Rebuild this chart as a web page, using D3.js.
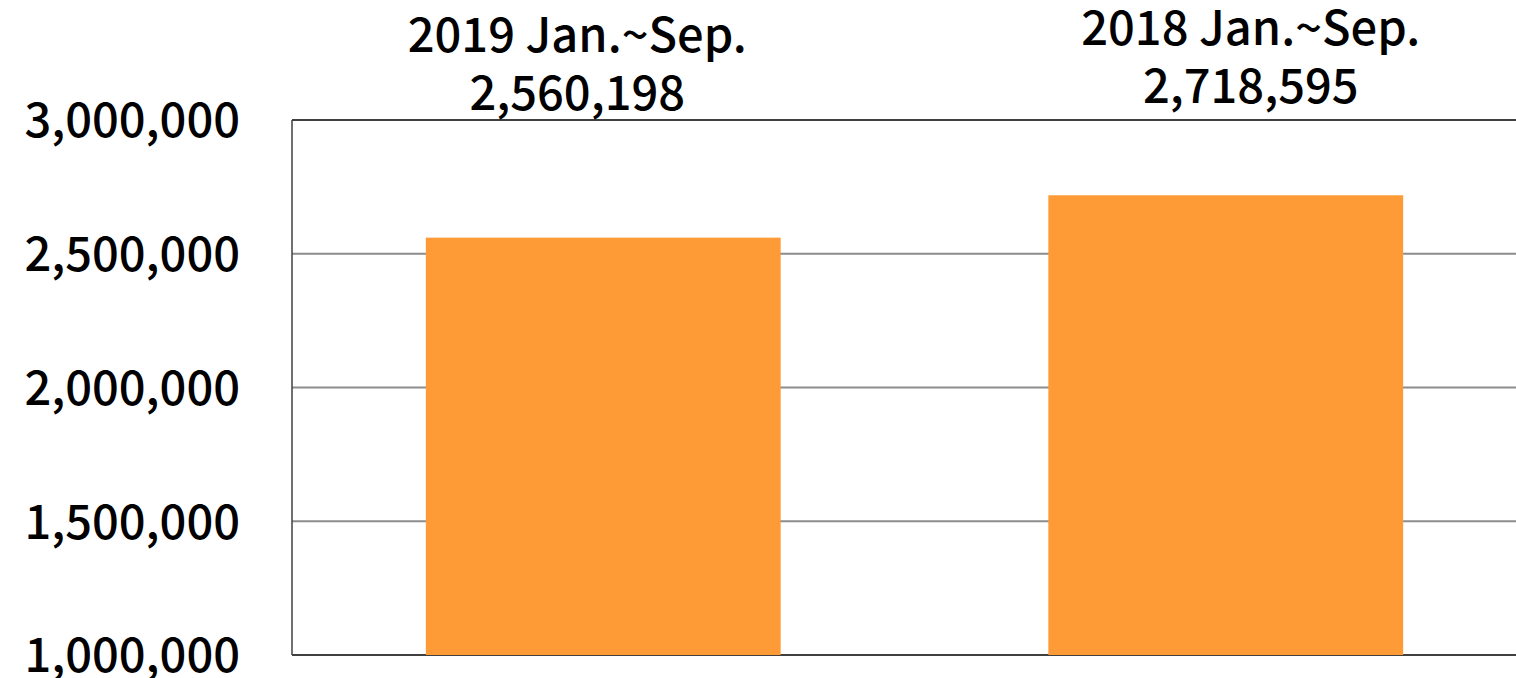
<!DOCTYPE html>
<html>
<head>
<meta charset="utf-8">
<script src="https://cdn.jsdelivr.net/npm/d3@7"></script>
<style>
  body { margin: 0; background: #fff; }
  svg text { font-family: "Noto Sans CJK TC", "Noto Sans", sans-serif; fill: #000; }
</style>
</head>
<body>
<div id="chart"></div>
<script>
// values
const periods = ['2019 Jan.~Sep.', '2018 Jan.~Sep.'];
const totals = [2560198, 2718595];
const yTicks = [1000000, 1500000, 2000000, 2500000, 3000000];

const W = 1516, H = 678;
const margin = { top: 120, right: -21, bottom: 23, left: 292 };
const width = W - margin.left - margin.right;
const height = H - margin.top - margin.bottom;
const fmt = d3.format(',');
const fontSize = '47px';
const fontWeight = 500;

const svg = d3.select('#chart')
  .append('svg')
  .attr('width', W)
  .attr('height', H);

const g = svg.append('g')
  .attr('transform', `translate(${margin.left}, ${margin.top})`);

const x = d3.scaleBand()
  .domain(periods)
  .range([0, width])
  .paddingInner(0.43)
  .paddingOuter(0.215);

const y = d3.scaleLinear()
  .domain([1000000, 3000000])
  .range([height, 0]);

// grid
g.selectAll('.grid')
  .data(yTicks)
  .enter()
  .append('line')
  .attr('x1', 0)
  .attr('x2', width)
  .attr('y1', d => y(d))
  .attr('y2', d => y(d))
  .attr('stroke', (d, i) => (i === 0 || i === yTicks.length - 1 ? '#404040' : '#8c8c8c'))
  .attr('stroke-width', 2);

g.selectAll('.bar')
  .data(totals)
  .enter()
  .append('rect')
  .attr('x', (d, i) => x(periods[i]))
  .attr('width', x.bandwidth())
  .attr('y', d => y(d))
  .attr('height', d => y(1000000) - y(d))
  .attr('fill', '#fe9b37');

g.append('line')
  .attr('x1', 0).attr('x2', 0)
  .attr('y1', 0).attr('y2', height)
  .attr('stroke', '#404040')
  .attr('stroke-width', 1.5);

// y axis labels
const axis = g.append('g')
  .call(d3.axisLeft(y).tickValues(yTicks).tickFormat(fmt).tickSize(0).tickPadding(52));
axis.select('.domain').remove();
axis.selectAll('text')
  .style('font-size', fontSize)
  .style('font-weight', fontWeight)
  .attr('dy', '0.36em');

// labels over bars
const labelShift = [{ dx: -26, dy: -10 }, { dx: 25, dy: -17 }];
const labels = g.selectAll('.lab')
  .data(totals)
  .enter()
  .append('text')
  .attr('text-anchor', 'middle')
  .style('font-size', fontSize)
  .style('font-weight', fontWeight)
  .attr('transform', (d, i) =>
    `translate(${x(periods[i]) + x.bandwidth() / 2 + labelShift[i].dx}, ${y(3000000) + labelShift[i].dy})`);

labels.append('tspan')
  .attr('x', 0)
  .attr('y', -58)
  .text((d, i) => periods[i]);

labels.append('tspan')
  .attr('x', 0)
  .attr('y', 0)
  .text(d => fmt(d));
</script>
</body>
</html>
